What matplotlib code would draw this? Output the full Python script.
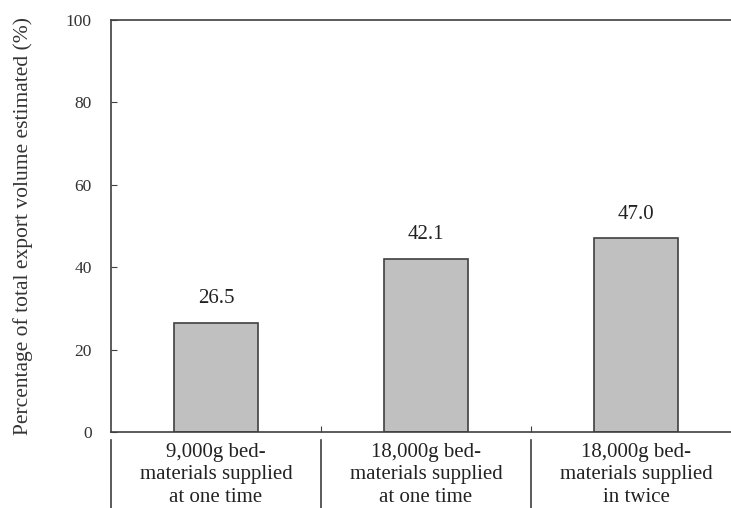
import matplotlib.pyplot as plt
import numpy as np

categories = ["9,000g bed-\nmaterials supplied\nat one time",
              "18,000g bed-\nmaterials supplied\nat one time",
              "18,000g bed-\nmaterials supplied\nin twice"]
values = [26.5, 42.1, 47.0]
yticks = [0, 20, 40, 60, 80, 100]

plt.rcParams['font.family'] = ['Liberation Serif', 'DejaVu Serif']

fig = plt.figure(figsize=(7.31, 5.08), dpi=100)
ax = fig.add_axes([111 / 731, 76 / 508, 630 / 731, 412 / 508])

x = np.arange(len(values))
ax.bar(x, values, width=0.4, color="#c0c0c0", edgecolor="#404040", linewidth=1.2)
for xi, v in zip(x, values):
    ax.text(xi, v + 3.5, f"{v:.1f}", ha="center", va="bottom", fontsize=15, color="#222222")

ax.set_xlim(-0.5, 2.5)
ax.set_ylim(0, 100)
ax.set_yticks(yticks)
ax.tick_params(axis="y", direction="in", length=4, colors="#404040", labelsize=12.5, labelcolor="#333333", pad=14)
ax.set_xticks([0.5, 1.5])
ax.set_xticklabels([])
ax.tick_params(axis="x", direction="in", length=4, colors="#404040")
ax.set_ylabel("Percentage of total export volume estimated (%)", fontsize=15.5, color="#333333")
ax.yaxis.set_label_coords(-0.124, 0.5)

ax.spines["right"].set_visible(False)
for side in ["top", "left", "bottom"]:
    ax.spines[side].set_color("#404040")
    ax.spines[side].set_linewidth(1.2)

# table-like category labels under the axis
trans = ax.get_xaxis_transform()
for b in [-0.5, 0.5, 1.5]:
    ax.plot([b, b], [-0.02, -0.2], transform=trans, color="#404040", lw=1.2, clip_on=False)
for xi, lab in zip(x, categories):
    ax.text(xi, -0.026, lab, transform=trans, ha="center", va="top", fontsize=15,
            color="#222222", linespacing=1.27)

fig.savefig("out.png", dpi=100)
